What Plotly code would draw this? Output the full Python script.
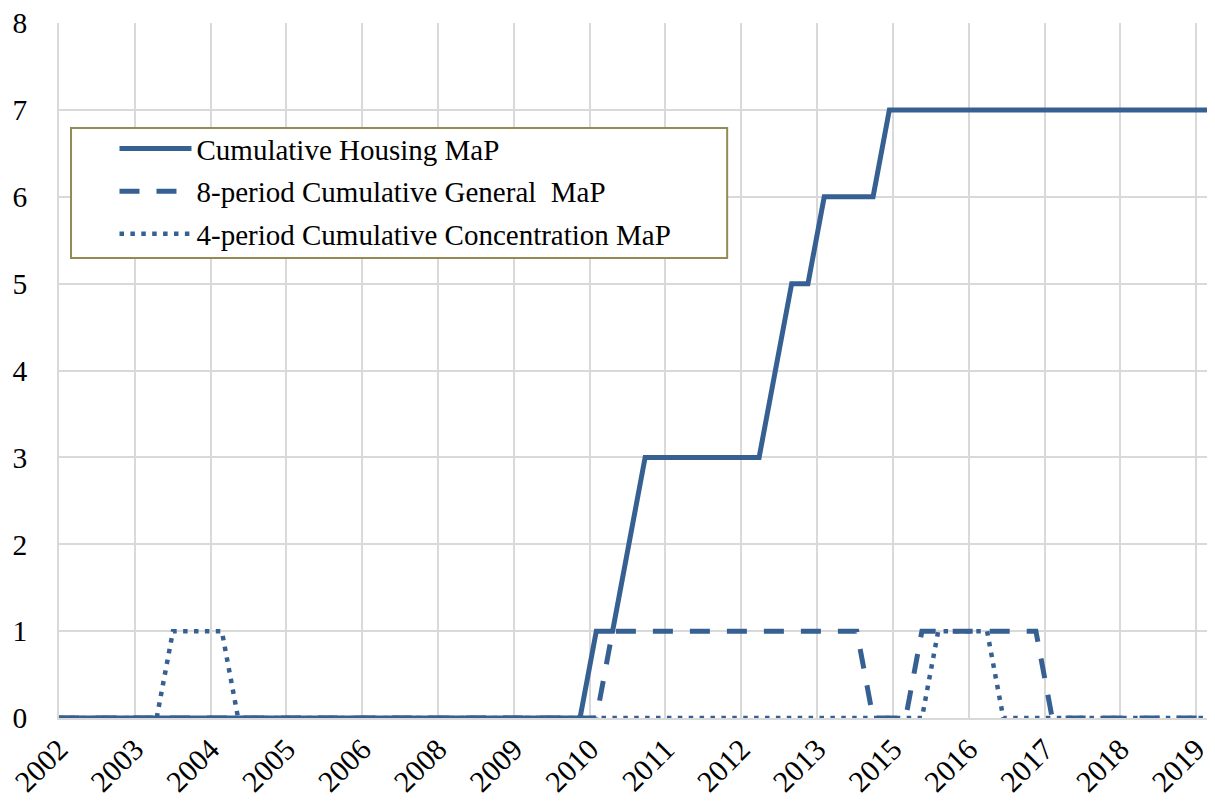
import numpy as np
import plotly.graph_objects as go

# quarterly observations, 2002Q1 .. 2019Q4
housing = [0] * 33 + [1, 1, 2] + [3] * 8 + [4, 5, 5] + [6] * 4 + [7] * 21
general = [0] * 34 + [1] * 16 + [0] * 3 + [1] * 8 + [0] * 11
concentration = [0] * 7 + [1] * 4 + [0] * 43 + [1] * 4 + [0] * 14

year_labels = ["2002", "2003", "2004", "2005", "2006", "2008", "2009", "2010",
               "2011", "2012", "2013", "2015", "2016", "2017", "2018", "2019"]

names = ["Cumulative Housing MaP",
         "8-period Cumulative General  MaP",
         "4-period Cumulative Concentration MaP"]

LINE = "#376092"
GRID = "#d9d9d9"
FONT = "Liberation Serif, DejaVu Serif, serif"
TICK_STEP = 4.656  # categories between label gridlines

x = np.arange(len(housing))
tickvals = np.arange(len(year_labels)) * TICK_STEP

fig = go.Figure()
fig.add_trace(go.Scatter(x=x, y=housing, name=names[0], mode="lines",
                         legendgroup="a",
                         line=dict(color=LINE, width=5)))
fig.add_trace(go.Scatter(x=x, y=general, name=names[1], mode="lines",
                         legendgroup="b",
                         line=dict(color=LINE, width=5, dash="20px,17px")))
fig.add_trace(go.Scatter(x=x, y=concentration, name=names[2], mode="lines",
                         legendgroup="c",
                         line=dict(color=LINE, width=4.5, dash="4.5px,6.4px")))

# legend frame
fig.add_shape(type="rect", xref="paper", yref="paper",
              x0=0.0104, x1=0.578, y0=0.662, y1=0.849,
              line=dict(color="#948a54", width=2), fillcolor="white", layer="above")

# page body adds an 8px offset, so the figure is drawn 8px smaller
fig.update_layout(
    width=1207, height=799,
    margin=dict(l=51, r=0, t=15, b=89),
    paper_bgcolor="white", plot_bgcolor="white",
    font=dict(family=FONT, color="black"),
    showlegend=True,
    legend=dict(x=0.048, y=0.856, xanchor="left", yanchor="top",
                bgcolor="rgba(0,0,0,0)", borderwidth=0,
                font=dict(size=29, family=FONT), itemwidth=72,
                tracegroupgap=2, traceorder="grouped"),
    xaxis=dict(range=[0, 71], tickmode="array", tickvals=tickvals, ticktext=year_labels,
               tickangle=-45, tickfont=dict(size=30, family=FONT),
               showgrid=True, gridcolor=GRID, gridwidth=1.5,
               showline=True, linecolor=GRID, linewidth=1.5,
               zeroline=False, ticks="", automargin=False),
    yaxis=dict(range=[0, 8], dtick=1, tickfont=dict(size=29.5, family=FONT),
               showgrid=True, gridcolor=GRID, gridwidth=1.5,
               showline=True, linecolor=GRID, linewidth=1.5,
               zeroline=False, ticks="", ticklabelstandoff=24, automargin=False,
               ticklabeloverflow="allow"),
)

fig.write_html("out.html")
